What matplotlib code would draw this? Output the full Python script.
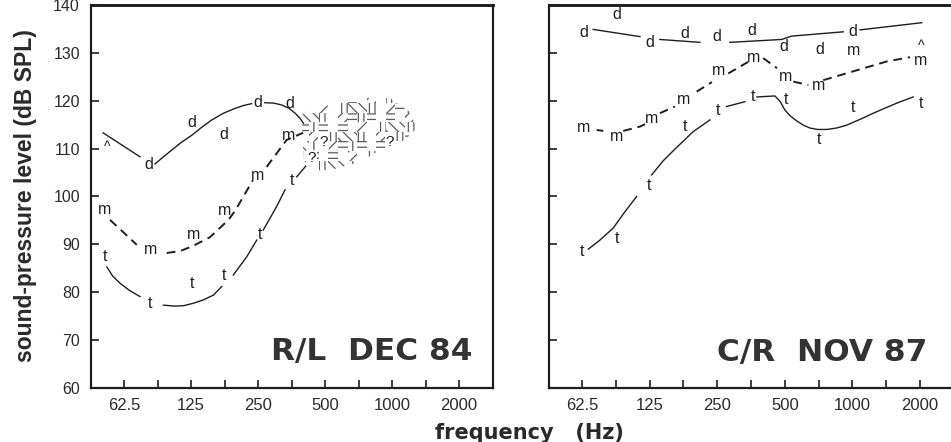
import numpy as np
import matplotlib
matplotlib.use("Agg")
import matplotlib.pyplot as plt
from matplotlib.patches import Polygon, Rectangle

nan = np.nan

# ---- R/L  DEC 84 (left panel) ----
# letter data points (Hz, dB SPL)
rl_d_hz = [80.5, 125.5, 175, 250, 348]
rl_d_db = [106.6, 115.5, 113.0, 119.6, 119.5]
rl_m_hz = [51.3, 81.8, 128, 177.6, 250, 342]
rl_m_db = [97.2, 89.0, 92.1, 97.0, 104.3, 112.8]
rl_t_hz = [51.3, 81.8, 126.7, 176, 255, 354]
rl_t_db = [87.4, 77.7, 81.9, 83.6, 92.1, 103.4]
rl_caret_hz = [52.3]
rl_caret_db = [110.3]
rl_q_hz = [435.6, 491.5, 979]
rl_q_db = [108.1, 111.4, 111.4]

# hand-drawn curves (nan = pen lifted)
rl_d_curve_hz = [50.3, 73.7, nan, 86.1, 94, 102.4, 113, 126, 140, 155, 175, 197, 215, 234, nan,
                 268, 295, 320, 345, 367, 385, 400]
rl_d_curve_db = [113.3, 108.3, nan, 106.8, 108.3, 109.7, 111.3, 112.8, 114.5, 116.0, 117.4, 118.4, 119.0, 119.4, nan,
                 119.6, 119.5, 119.1, 118.4, 117.4, 116.4, 115.3]
rl_m_curve_hz = [54.1, 62.5, 71.3, nan, 97.2, 111.6, 128, 152, 184, 197, 237, nan, 273.5, 336, 398]
rl_m_curve_db = [95.1, 92.4, 89.9, nan, 88.2, 88.6, 89.7, 91.5, 95.1, 97.0, 103.4, nan, 106.2, 111.8, 113.3]
rl_t_curve_hz = [52.3, 55.5, 59.9, 66, 73.7, nan, 93.9, 105.9, 116, 128, 142, 157.5, 171.8, nan,
                 193.6, 222.4, 246.7, nan, 264, 303, 330.5, nan, 373, 414]
rl_t_curve_db = [85.3, 83.4, 81.9, 80.4, 79.1, nan, 77.3, 77.1, 77.2, 77.7, 78.4, 79.4, 81.2, nan,
                 83.6, 87.4, 90.9, nan, 93.0, 97.9, 101.4, nan, 104.1, 106.6]

# scribbled "uncertain" region
cloud_hz = [398, 526, 694, 979, 1205, 1291, 1144, 883, 718, 526, 441, 402, 394]
cloud_db = [118.1, 119.1, 120.6, 120.6, 117.6, 114.3, 111.8, 109.7, 107.2, 105.5, 104.6, 107.6, 113.9]

# ---- C/R  NOV 87 (right panel) ----
cr_d_hz = [63.8, 89.2, 125.5, 179.8, 250, 356, 496, 717, 1000]
cr_d_db = [134.3, 138.1, 132.2, 134.1, 133.4, 134.6, 131.3, 130.7, 134.4]
cr_m_hz = [63.8, 89.5, 127.7, 177.5, 252.8, 364.6, 506, 705, 1009, 2015]
cr_m_db = [114.5, 112.6, 116.3, 120.2, 126.4, 129.1, 125.0, 123.1, 130.4, 128.4]
cr_t_hz = [62.5, 89.2, 124.7, 180, 252.8, 359.8, 506, 712, 1009, 2021]
cr_t_db = [88.5, 91.3, 102.4, 114.7, 117.9, 120.8, 120.2, 112.0, 118.6, 119.5]
cr_caret_hz = [2021]
cr_caret_db = [131.5]

cr_d_curve_hz = [70.2, 113.3, nan, 139, 209.6, nan, 284.8, 484, 536.6, 910.6, nan, 1081, 2035]
cr_d_curve_db = [134.9, 133.4, nan, 132.8, 132.2, nan, 132.2, 132.8, 133.5, 134.4, nan, 134.8, 136.3]
cr_m_curve_hz = [72.7, 77.8, nan, 95.5, 113.3, 119.3, nan, 139, 162.2, nan, 202.6, 237, nan,
                 280, 343, nan, 401, 461.7, nan, 545.6, 636.6, nan, 742, 1421, 1805]
cr_m_curve_db = [113.9, 113.7, nan, 113.7, 114.6, 115.1, nan, 117.4, 118.8, nan, 121.9, 123.9, nan,
                 125.7, 128.1, nan, 128.9, 126.8, nan, 124.0, 123.3, nan, 124.3, 128.2, 129.1]
cr_t_curve_hz = [66.7, 75.2, 86.1, 97.1, 109.5, nan, 127.7, 143.4, 162.2, 195, 232, nan, 275.5, 332.5,
                 nan, 376, 452, 476, 500, 530, 565, 605, 647.5, 700, 768.5, 850, 943, 1080, 1239, 1575, 1866]
cr_t_curve_db = [89.0, 90.9, 93.4, 96.8, 100.0, nan, 104.5, 107.4, 109.9, 113.5, 116.0, nan, 118.8, 119.8,
                 nan, 120.8, 121.0, 119.9, 118.1, 116.8, 115.8, 114.9, 114.3, 114.0, 114.0, 114.3, 114.9, 116.1,
                 117.4, 119.5, 120.8]

x_ticks = [62.5, 88.4, 125, 176.8, 250, 353.6, 500, 707.1, 1000, 1414.2, 2000]
x_labels = ['62.5', '', '125', '', '250', '', '500', '', '1000', '', '2000']
y_ticks = [60, 70, 80, 90, 100, 110, 120, 130, 140]

INK = '#1e1e1e'
LETTER_FONT = 'Liberation Sans'
plt.rcParams['hatch.linewidth'] = 0.9


def setup_axes(ax, xlim, show_ylabels):
    ax.set_xscale('log', base=2)
    ax.set_xlim(*xlim)
    ax.set_ylim(60, 140)
    ax.set_xticks(x_ticks)
    ax.set_xticklabels(x_labels, fontsize=12, family=LETTER_FONT, color='#2a2a2a')
    ax.minorticks_off()
    ax.set_yticks(y_ticks)
    if show_ylabels:
        ax.set_yticklabels([str(v) for v in y_ticks], fontsize=11.5, family=LETTER_FONT, color='#2a2a2a')
    else:
        ax.set_yticklabels([])
    ax.tick_params(direction='in', length=5.5, width=1.2, color=INK)
    ax.tick_params(axis='x', pad=7)
    ax.tick_params(axis='y', pad=8)
    for sp in ax.spines.values():
        sp.set_linewidth(1.6)
        sp.set_color(INK)
    ax.spines['top'].set_linewidth(2.1)


def letters(ax, xs, ys, s, size=11.5):
    for x, y in zip(xs, ys):
        ax.text(x, y, s, ha='center', va='center', fontsize=size, family=LETTER_FONT, color=INK)


fig = plt.figure(figsize=(9.51, 4.42), dpi=100)
ax1 = fig.add_axes([91 / 951, 54 / 442, 402 / 951, 383 / 442])
ax2 = fig.add_axes([549 / 951, 54 / 442, 401.5 / 951, 383 / 442])

setup_axes(ax1, (44.4, 2843), True)
setup_axes(ax2, (44.6, 2734), False)
ax2.spines['right'].set_color('#c8c8c8')
ax2.spines['right'].set_linewidth(1.0)

# left panel curves
ax1.plot(rl_d_curve_hz, rl_d_curve_db, color=INK, lw=1.0)
ax1.plot(rl_m_curve_hz, rl_m_curve_db, color=INK, lw=1.4, dashes=(4.5, 3))
ax1.plot(rl_t_curve_hz, rl_t_curve_db, color=INK, lw=1.0)

# scribble cloud: patchwork of short hatched cells clipped to the outline
cloud = Polygon(np.column_stack([cloud_hz, cloud_db]), closed=True, facecolor='none', edgecolor='none')
ax1.add_patch(cloud)
hatches = ['|||', '---', '', '///', '\\\\\\', '', '|||', '---', '', '\\\\\\', '///', '---', '', '|||']
f_edges = 385 * 2 ** (np.arange(0, 16) / 7)
db_edges = np.arange(103.5, 122, 2.0)
for i in range(len(f_edges) - 1):
    for j in range(len(db_edges) - 1):
        h = hatches[(i * 5 + j * 3) % len(hatches)]
        if not h:
            continue
        r = Rectangle((f_edges[i], db_edges[j]), f_edges[i + 1] - f_edges[i], db_edges[j + 1] - db_edges[j],
                      fill=False, hatch=h, edgecolor='#5a5a5a', linewidth=0)
        ax1.add_patch(r)
        r.set_clip_path(cloud)

letters(ax1, rl_d_hz, rl_d_db, 'd')
letters(ax1, rl_m_hz, rl_m_db, 'm')
letters(ax1, rl_t_hz, rl_t_db, 't')
letters(ax1, rl_caret_hz, rl_caret_db, '^', size=10)
for x, y in zip(rl_q_hz, rl_q_db):
    ax1.text(x, y, '?', ha='center', va='center', fontsize=11, family=LETTER_FONT, color=INK,
             bbox=dict(facecolor='white', edgecolor='none', pad=0.8))

# right panel curves
ax2.plot(cr_d_curve_hz, cr_d_curve_db, color=INK, lw=1.0)
ax2.plot(cr_m_curve_hz, cr_m_curve_db, color=INK, lw=1.4, dashes=(4.5, 3))
ax2.plot(cr_t_curve_hz, cr_t_curve_db, color=INK, lw=1.0)

letters(ax2, cr_d_hz, cr_d_db, 'd')
letters(ax2, cr_m_hz, cr_m_db, 'm')
letters(ax2, cr_t_hz, cr_t_db, 't')
letters(ax2, cr_caret_hz, cr_caret_db, '^', size=10)

ax1.text(0.948, 0.073, 'R/L  DEC 84', transform=ax1.transAxes, ha='right', va='baseline',
         fontsize=22.5, fontweight='bold', family='DejaVu Sans', color='#333333')
ax2.text(0.9415, 0.0705, 'C/R  NOV 87', transform=ax2.transAxes, ha='right', va='baseline',
         fontsize=22.5, fontweight='bold', family='DejaVu Sans', color='#333333')

fig.text(26 / 951, 1 - 195.5 / 442, 'sound-pressure level (dB SPL)', rotation=90, ha='center', va='center',
         fontsize=16.5, fontweight='bold', family=LETTER_FONT, color='#2a2a2a')
fig.text(529 / 951, 1 - 433 / 442, 'frequency   (Hz)', ha='center', va='center',
         fontsize=15, fontweight='bold', family='DejaVu Sans', color='#2a2a2a')

fig.savefig('out.png', dpi=100)
